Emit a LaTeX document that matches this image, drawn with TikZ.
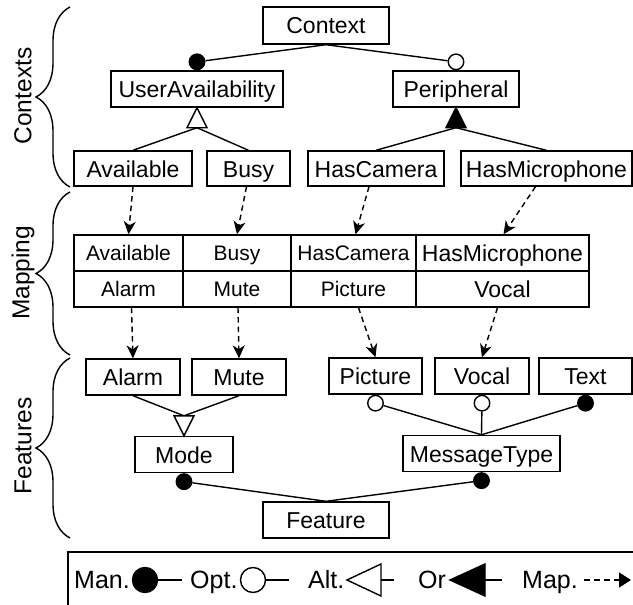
\documentclass[tikz,border=0pt]{standalone}
\usepackage{fontspec}
\setmainfont{Liberation Sans}
\usetikzlibrary{arrows.meta,decorations.pathreplacing,calc}

\begin{document}
\begin{tikzpicture}[x=1pt,y=-1pt,
  every node/.style={font=\fontsize{23}{27}\selectfont},
  box/.style={draw,line width=1.4pt,inner sep=0pt,minimum height=36pt,text height=17pt,text depth=0pt},
  cell/.style={draw,line width=1.4pt,inner sep=0pt,minimum height=36pt,text height=15.5pt,text depth=0pt,font=\fontsize{21}{25}\selectfont},
  conn/.style={line width=1.4pt},
  mand/.style={circle,draw,fill=black,line width=1.4pt,inner sep=0pt,minimum size=15.5pt},
  opt/.style={circle,draw,fill=white,line width=1.4pt,inner sep=0pt,minimum size=15.5pt},
  maparrow/.style={line width=1.4pt,dash pattern=on 5.5pt off 4pt,-{Stealth[length=13pt,width=12pt,inset=4pt]}},
  grouplabel/.style={rotate=90,font=\fontsize{24.5}{29}\selectfont},
  groupbrace/.style={decorate,decoration={brace,amplitude=34pt},line width=1.4pt},
  legend/.style={font=\fontsize{25}{30}\selectfont,inner sep=0pt,anchor=base west}
]
\useasboundingbox (0,0) rectangle (633,605);
\clip (0,0) rectangle (633,605);
\fill[white] (0,0) rectangle (633,605);

% ---------- context model ----------
\node[box,minimum width=126pt,minimum height=37pt] (ctx) at (326,25.5) {Context};
\node[box,minimum width=172pt] (ua) at (197,89) {UserAvailability};
\node[box,minimum width=126pt] (per) at (456,89) {Peripheral};
\node[box,minimum width=118pt,minimum height=35pt] (av) at (133,168.5) {Available};
\node[box,minimum width=83pt,minimum height=35pt] (busy) at (248.5,168.5) {Busy};
\node[box,minimum width=136pt,minimum height=35pt] (cam) at (376,168.5) {HasCamera};
\node[box,minimum width=171pt,minimum height=35pt] (mic) at (546.5,168.5) {HasMicrophone};

\node[mand,anchor=south] (uaman) at (ua.north) {};
\node[opt,anchor=south] (perop) at (per.north) {};
\draw[conn] (ctx.south) -- (uaman);
\draw[conn] (ctx.south) -- (perop);

\path (ua.south) ++(0,20) coordinate (uaalt);
\draw[conn] (av.north) -- (uaalt);
\draw[conn] (busy.north) -- (uaalt);
\draw[conn,fill=white] (ua.south) -- ++(-10,20) -- ++(20,0) -- cycle;

\path (per.south) ++(0,20) coordinate (peror);
\draw[conn] (cam.north) -- (peror);
\draw[conn] (mic.north) -- (peror);
\draw[conn,fill=black] (per.south) -- ++(-10,20) -- ++(20,0) -- cycle;

% ---------- mapping table ----------
\node[cell,minimum width=109pt] (c11) at (128.5,253) {Available};
\node[cell,minimum width=108pt] (c12) at (237,253) {Busy};
\node[cell,minimum width=125pt] (c13) at (353.5,253) {HasCamera};
\node[cell,minimum width=173pt,font=\fontsize{23}{27}\selectfont,text height=16.5pt] (c14) at (502.5,253) {HasMicrophone};
\node[cell,minimum width=109pt] (c21) at (128.5,289) {Alarm};
\node[cell,minimum width=108pt] (c22) at (237,289) {Mute};
\node[cell,minimum width=125pt] (c23) at (353.5,289) {Picture};
\node[cell,minimum width=173pt,font=\fontsize{23}{27}\selectfont,text height=16.5pt] (c24) at (502.5,289) {Vocal};

\draw[maparrow] (av.south) -- (c11.north);
\draw[maparrow] ([xshift=-2pt]busy.south) -- (c12.north);
\draw[maparrow] ([xshift=-7pt]cam.south) -- ([xshift=2pt]c13.north);
\draw[maparrow] ([xshift=-11pt]mic.south) -- ([xshift=1pt]c14.north);

% ---------- feature model ----------
\node[box,minimum width=94pt] (alarm) at (133,377) {Alarm};
\node[box,minimum width=94pt] (mute) at (239,377) {Mute};
\node[box,minimum width=93pt] (pic) at (375.5,376) {Picture};
\node[box,minimum width=94pt] (vocal) at (482,376) {Vocal};
\node[box,minimum width=93pt] (txt) at (585.5,376) {Text};
\node[box,minimum width=98pt] (mode) at (184,454.5) {Mode};
\node[box,minimum width=157pt] (msg) at (481.5,453.5) {MessageType};
\node[box,minimum width=126pt] (feat) at (326,520) {Feature};

\draw[maparrow] ([xshift=3pt]c21.south) -- (alarm.north);
\draw[maparrow] ([xshift=1pt]c22.south) -- (mute.north);
\draw[maparrow] ([xshift=5pt]c23.south) -- (pic.north);
\draw[maparrow] ([xshift=-5pt]c24.south) -- (vocal.north);

\path (mode.north) ++(0,-20) coordinate (modealt);
\draw[conn] (alarm.south) -- (modealt);
\draw[conn] (mute.south) -- (modealt);
\draw[conn,fill=white] (mode.north) -- ++(-10,-20) -- ++(20,0) -- cycle;

\node[opt,anchor=north] (picop) at (pic.south) {};
\node[opt,anchor=north] (vocop) at (vocal.south) {};
\node[mand,anchor=north] (txtman) at (txt.south) {};
\draw[conn] (picop) -- (msg.north);
\draw[conn] (vocop) -- (msg.north);
\draw[conn] (txtman) -- (msg.north);

\node[mand,anchor=north] (modeman) at (mode.south) {};
\node[mand,anchor=north] (msgman) at (msg.south) {};
\draw[conn] (modeman) -- (feat.north);
\draw[conn] (msgman) -- (feat.north);

% ---------- group braces ----------
\coordinate (b1t) at (70,7);   \coordinate (b1b) at (70,187);
\coordinate (b2t) at (70,192); \coordinate (b2b) at (70,355);
\coordinate (b3t) at (70,358); \coordinate (b3b) at (70,538);
\draw[groupbrace] (b1b) -- (b1t);
\draw[groupbrace] (b2b) -- (b2t);
\draw[groupbrace] (b3b) -- (b3t);
\node[grouplabel] (lctx) at (23,96) {Contexts};
\node[grouplabel] (lmap) at (23,273) {Mapping};
\node[grouplabel] (lfeat) at (23,446) {Features};

% ---------- legend ----------
\draw[line width=1.4pt] (68,552) rectangle (680,680);
\node[legend] (kman) at (74,588) {Man.};
\node[mand,minimum size=25pt] (kmandot) at (145,580) {};
\coordinate (kmanend) at (182,580);
\draw[conn] (kmandot) -- (kmanend);

\node[legend] (kopt) at (190,588) {Opt.};
\node[opt,minimum size=25pt] (koptdot) at (253,580) {};
\coordinate (koptend) at (289,580);
\draw[conn] (koptdot) -- (koptend);

\node[legend] (kalt) at (308,588) {Alt.};
\draw[conn,fill=white] (347,580) -- (381,564) -- (381,596) -- cycle;
\coordinate (kaltbase) at (381,580); \coordinate (kaltend) at (394,580);
\draw[conn] (kaltbase) -- (kaltend);

\node[legend] (kor) at (418,588) {Or};
\draw[conn,fill=black] (450,580) -- (485,564) -- (485,596) -- cycle;
\coordinate (korbase) at (485,580); \coordinate (korend) at (502,580);
\draw[conn] (korbase) -- (korend);

\node[legend] (kmap) at (522,588) {Map.};
\coordinate (kmapstart) at (584,580); \coordinate (kmapend) at (631,580);
\draw[line width=1.4pt,dash pattern=on 6pt off 4pt,-{Triangle[length=12pt,width=15pt]}] (kmapstart) -- (kmapend);
\end{tikzpicture}
\end{document}
